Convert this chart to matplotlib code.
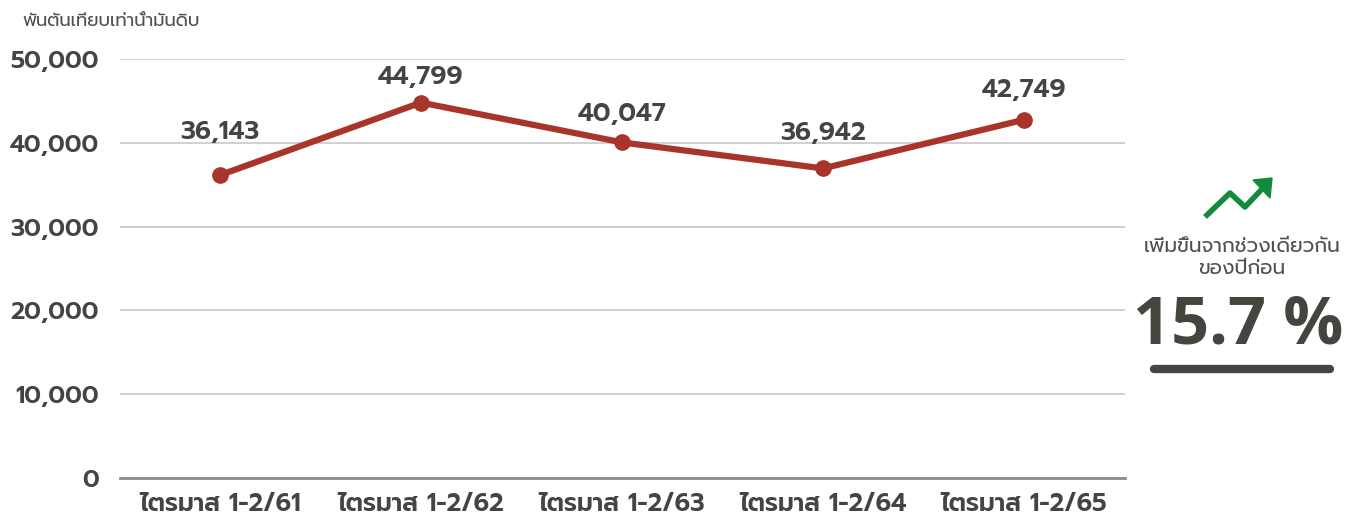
import matplotlib
matplotlib.use("Agg")
import matplotlib.pyplot as plt
from matplotlib.patches import Polygon
from matplotlib.lines import Line2D

categories = ["ไตรมาส 1-2/61", "ไตรมาส 1-2/62", "ไตรมาส 1-2/63", "ไตรมาส 1-2/64", "ไตรมาส 1-2/65"]
values = [36143, 44799, 40047, 36942, 42749]
yticks = [0, 10000, 20000, 30000, 40000, 50000]
unit_label = "พันตันเทียบเท่าน้ำมันดิบ"
growth_text = "เพิ่มขึ้นจากช่วงเดียวกัน\nของปีก่อน"
growth_value = "15.7 %"

# label distance above each point, in pixels
label_gap = [43, 25, 28, 35, 29]

plt.rcParams["font.family"] = ["Prompt", "DejaVu Sans"]

dark = "#444444"
red = "#a9342a"
W, H = 1354, 518


def fx(px):
    return px / W


def fy(py):
    return 1 - py / H


fig = plt.figure(figsize=(13.54, 5.18), dpi=100)
ax = fig.add_axes([fx(119.5), 40 / H, 1005 / W, 419 / H])

x = list(range(len(values)))
ax.plot(x, values, color=red, lw=4.5, marker="o", ms=11, zorder=3, solid_capstyle="round")
for xi, v, g in zip(x, values, label_gap):
    ax.annotate(f"{v:,}", (xi, v), xytext=(0, g * 0.72), textcoords="offset points",
                ha="center", va="center", fontsize=18.5, fontweight="semibold", color=dark)

ax.set_xlim(-0.5, len(values) - 0.5)
ax.set_ylim(0, 50000)
ax.set_yticks(yticks)
ax.set_yticklabels([f"{t:,}" for t in yticks], fontsize=17.5, fontweight="semibold", color=dark)
ax.set_xticks(x)
ax.set_xticklabels(categories, fontsize=18, fontweight="semibold", color=dark)
ax.tick_params(axis="both", length=0)
ax.tick_params(axis="y", pad=15)
ax.tick_params(axis="x", pad=10)
ax.grid(axis="y", color="#c8c8c8", lw=1.2)
ax.set_axisbelow(True)
for s in ["top", "right", "left"]:
    ax.spines[s].set_visible(False)
ax.spines["bottom"].set_color("#8a8a8a")
ax.spines["bottom"].set_linewidth(2)

fig.text(fx(22), fy(22), unit_label, fontsize=13, color="#505050", va="center")

# green arrow
gx = [1207, 1230, 1245, 1262]
gy = [215, 193, 207, 189]
fig.add_artist(Line2D([fx(v) for v in gx], [fy(v) for v in gy], color="#138a3c", lw=4,
                      transform=fig.transFigure))
head = [(1253, 180), (1272, 178), (1270, 198)]
fig.add_artist(Polygon([(fx(a), fy(b)) for a, b in head], closed=True, color="#138a3c",
                       transform=fig.transFigure))

fig.text(fx(1242), fy(258), growth_text, ha="center", va="center", fontsize=14.5,
         color="#505050", linespacing=1.3)
fig.text(fx(1238), fy(326), growth_value, ha="center", va="center", fontsize=48,
         fontweight="bold", color="#454540", family=["Open Sans", "DejaVu Sans"])
fig.add_artist(Line2D([fx(1154), fx(1330)], [fy(369)] * 2, color="#454540", lw=6,
                      solid_capstyle="round", transform=fig.transFigure))

fig.savefig("out.png", dpi=100)
